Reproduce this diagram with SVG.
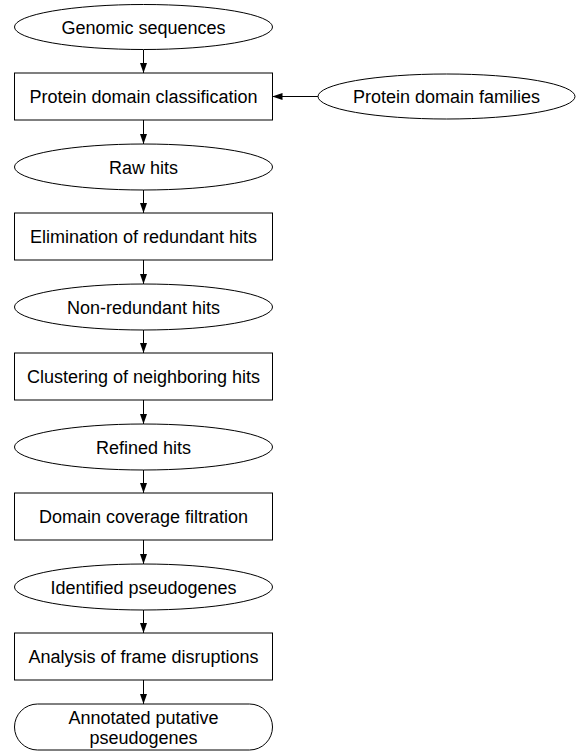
<svg xmlns="http://www.w3.org/2000/svg" width="577" height="753" viewBox="0 0 577 753">
<style>
.s{fill:#fff;stroke:#000;stroke-width:1}
.t{font-family:"Liberation Sans",Arial,sans-serif;font-size:18px;fill:#000;text-anchor:middle}
.c{stroke:#000;stroke-width:1;fill:none;marker-end:url(#ah)}
</style>
<defs>
<marker id="ah" viewBox="0 0 10 10" refX="10" refY="5" markerWidth="10" markerHeight="10" markerUnits="userSpaceOnUse" orient="auto">
<path d="M0,1.5 L10,5 L0,8.5 Z" fill="#000"/>
</marker>
</defs>
<rect width="577" height="753" fill="#fff"/>
<g id="connectors">
<line class="c" x1="143.5" y1="50" x2="143.5" y2="73"/>
<line class="c" x1="143.5" y1="120" x2="143.5" y2="144"/>
<line class="c" x1="143.5" y1="190" x2="143.5" y2="213"/>
<line class="c" x1="143.5" y1="260" x2="143.5" y2="284"/>
<line class="c" x1="143.5" y1="330" x2="143.5" y2="353"/>
<line class="c" x1="143.5" y1="400" x2="143.5" y2="424"/>
<line class="c" x1="143.5" y1="470" x2="143.5" y2="493"/>
<line class="c" x1="143.5" y1="540" x2="143.5" y2="564"/>
<line class="c" x1="143.5" y1="610" x2="143.5" y2="633"/>
<line class="c" x1="143.5" y1="680" x2="143.5" y2="704"/>
<line class="c" x1="318" y1="96.5" x2="272.5" y2="96.5"/>
</g>
<g id="n1"><ellipse class="s" cx="143.5" cy="27" rx="129" ry="22.5"/><text class="t" x="143.5" y="33.5">Genomic sequences</text></g>
<g id="n2"><rect class="s" x="14.5" y="73" width="258" height="47"/><text class="t" x="143.5" y="103">Protein domain classification</text></g>
<g id="n3"><ellipse class="s" cx="446.5" cy="96.5" rx="128.5" ry="22.5"/><text class="t" x="446.5" y="103">Protein domain families</text></g>
<g id="n4"><ellipse class="s" cx="143.5" cy="167" rx="129" ry="23"/><text class="t" x="143.5" y="173.5">Raw hits</text></g>
<g id="n5"><rect class="s" x="14.5" y="213" width="258" height="47"/><text class="t" x="143.5" y="243">Elimination of redundant hits</text></g>
<g id="n6"><ellipse class="s" cx="143.5" cy="307" rx="129" ry="23"/><text class="t" x="143.5" y="313.5">Non-redundant hits</text></g>
<g id="n7"><rect class="s" x="14.5" y="353" width="258" height="47"/><text class="t" x="143.5" y="383">Clustering of neighboring hits</text></g>
<g id="n8"><ellipse class="s" cx="143.5" cy="447" rx="129" ry="23"/><text class="t" x="143.5" y="453.5">Refined hits</text></g>
<g id="n9"><rect class="s" x="14.5" y="493" width="258" height="47"/><text class="t" x="143.5" y="523">Domain coverage filtration</text></g>
<g id="n10"><ellipse class="s" cx="143.5" cy="587" rx="129" ry="23"/><text class="t" x="143.5" y="593.5">Identified pseudogenes</text></g>
<g id="n11"><rect class="s" x="14.5" y="633" width="258" height="47"/><text class="t" x="143.5" y="663">Analysis of frame disruptions</text></g>
<g id="n12"><rect class="s" x="14.5" y="704" width="258" height="46" rx="23" ry="23"/><text class="t" x="143.5" y="723.5">Annotated putative</text><text class="t" x="143.5" y="743.5">pseudogenes</text></g>
</svg>
